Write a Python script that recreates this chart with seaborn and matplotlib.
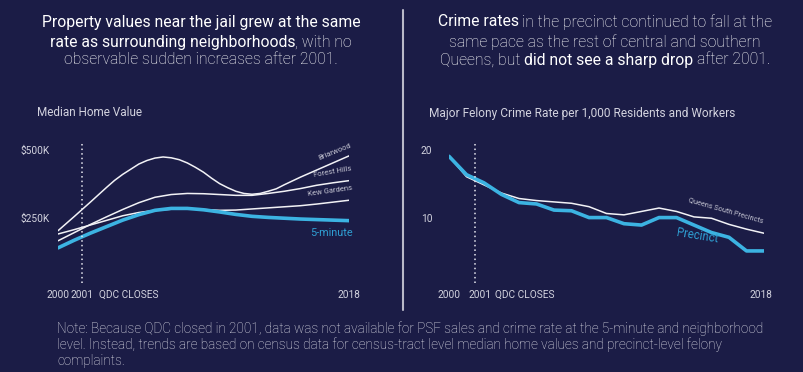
import numpy as np
import pandas as pd
import matplotlib
matplotlib.use("Agg")
import matplotlib.pyplot as plt
import matplotlib.transforms as mtransforms
from matplotlib.lines import Line2D
import seaborn as sns

# ---------------- data ----------------
years = list(range(2000, 2019))
five_minute = [144, 172, 198, 222, 246, 266, 282, 289, 289, 284, 276, 267, 260, 256, 253, 250, 248, 246, 244]
forest_hills = [170, 200, 230, 258, 285, 310, 330, 340, 344, 343, 340, 337, 337, 344, 352, 362, 374, 383, 391]
kew_gardens = [195, 211, 228, 245, 262, 274, 282, 286, 287, 285, 282, 283, 287, 291, 295, 299, 305, 312, 319]

# Briarwood read at half-year steps where the curve bends
briarwood_years = [2000, 2001, 2002, 2003, 2003.5, 2004, 2004.5, 2005, 2005.5, 2006, 2006.5, 2007, 2007.5,
                   2008, 2008.5, 2009, 2009.5, 2010, 2010.5, 2011, 2011.5, 2012, 2012.5, 2013, 2013.5,
                   2014, 2015, 2016, 2017, 2018]
briarwood = [207, 259, 312, 366, 392, 414, 433, 452, 465, 474, 478, 475, 468,
             456, 440, 422, 400, 380, 365, 352, 344, 341, 344, 352, 361,
             376, 404, 430, 456, 482]

precinct = [19.2, 16.5, 15.3, 13.6, 12.4, 12.2, 11.3, 11.2, 10.2, 10.2, 9.3, 9.1, 10.2, 10.2, 9.1, 8.0, 7.3, 5.3, 5.3]
queens_south = [19.2, 16.2, 15.0, 13.8, 13.0, 12.7, 12.5, 12.3, 11.8, 10.8, 10.6, 11.1, 11.6, 11.1, 10.3, 10.1, 9.2, 8.5, 7.9]

home_ticks = [250, 500]
home_tick_labels = ["$250K", "$500K"]
crime_ticks = [10, 20]
crime_tick_labels = ["10", "20"]
closure_year = 2001

# ---------------- style ----------------
BG = "#1b1c46"
BLUE = "#3cb3e2"
BLUE_TXT = "#2f9fd3"
WHITE = "#ffffff"
LINE_W = "#f2f2f6"
GREY = "#d2d2de"
LBL = "#c4c4d2"

sns.set_theme(style="white")
plt.rcParams['font.family'] = ['Roboto', 'DejaVu Sans']

W, H = 804, 372
fig = plt.figure(figsize=(W / 100, H / 100), dpi=100, facecolor=BG)


def px_axes(x0, y0, x1, y1):
    return fig.add_axes([x0 / W, 1 - y1 / H, (x1 - x0) / W, (y1 - y0) / H])


def fy(ypx):
    return 1 - ypx / H


def fx(xpx):
    return xpx / W


axL = px_axes(58, 142, 349, 283)
axR = px_axes(449, 142, 764, 283)

home_lines = pd.concat([
    pd.DataFrame({"year": briarwood_years, "value": briarwood, "area": "Briarwood"}),
    pd.DataFrame({"year": years, "value": forest_hills, "area": "Forest Hills"}),
    pd.DataFrame({"year": years, "value": kew_gardens, "area": "Kew Gardens"}),
    pd.DataFrame({"year": years, "value": five_minute, "area": "5-minute"}),
], ignore_index=True)
crime = pd.DataFrame({
    "year": years * 2,
    "value": queens_south + precinct,
    "area": ["Queens South Precincts"] * 19 + ["Precinct"] * 19,
})

for area in ["Briarwood", "Forest Hills", "Kew Gardens"]:
    sns.lineplot(data=home_lines[home_lines.area == area], x="year", y="value", ax=axL,
                 color=LINE_W, linewidth=1.1, legend=False, solid_capstyle="round", solid_joinstyle="round")
sns.lineplot(data=home_lines[home_lines.area == "5-minute"], x="year", y="value", ax=axL,
             color=BLUE, linewidth=2.6, legend=False, solid_capstyle="round", solid_joinstyle="round")

sns.lineplot(data=crime[crime.area == "Queens South Precincts"], x="year", y="value", ax=axR,
             color=LINE_W, linewidth=1.1, legend=False, solid_capstyle="round", solid_joinstyle="round")
sns.lineplot(data=crime[crime.area == "Precinct"], x="year", y="value", ax=axR,
             color=BLUE, linewidth=2.6, legend=False, solid_capstyle="round", solid_joinstyle="round")

axL.set_xlim(2000, 2018)
axL.set_ylim(15, 533)
axR.set_xlim(2000, 2018)
axR.set_ylim(0.59, 21.3)

for ax in (axL, axR):
    ax.set_facecolor("none")
    for s in ax.spines.values():
        s.set_visible(False)
    ax.set_xticks([])
    ax.set_yticks([])
    ax.set_xlabel("")
    ax.set_ylabel("")
    ax.axvline(closure_year + 0.5, color="#e8e8f0", linestyle=(0, (1, 2)), linewidth=1.1)

TK = 7.3
# y tick labels
trL = mtransforms.blended_transform_factory(fig.transFigure, axL.transData)
for v, lab in zip(home_ticks, home_tick_labels):
    fig.text(fx(20.5), v, lab, transform=trL, fontsize=TK, color=GREY, ha="left", va="center")
trR = mtransforms.blended_transform_factory(fig.transFigure, axR.transData)
for v, lab in zip(crime_ticks, crime_tick_labels):
    fig.text(fx(421), v, lab, transform=trR, fontsize=TK, color=GREY, ha="left", va="center")

# x labels
xlab_y = fy(295)
tLx = mtransforms.blended_transform_factory(axL.transData, fig.transFigure)
axL.text(2000, xlab_y, "2000", transform=tLx, fontsize=TK, color=GREY, ha="center", va="center")
axL.text(2001.5, xlab_y, "2001", transform=tLx, fontsize=TK, color=GREY, ha="center", va="center")
axL.text(2002.54, xlab_y, "QDC CLOSES", transform=tLx, fontsize=TK, color=GREY, ha="left", va="center")
axL.text(2018, xlab_y, "2018", transform=tLx, fontsize=TK, color=GREY, ha="center", va="center")
tRx = mtransforms.blended_transform_factory(axR.transData, fig.transFigure)
axR.text(2000, xlab_y, "2000", transform=tRx, fontsize=TK, color=GREY, ha="center", va="center")
axR.text(2001.77, xlab_y, "2001", transform=tRx, fontsize=TK, color=GREY, ha="center", va="center")
axR.text(2002.63, xlab_y, "QDC CLOSES", transform=tRx, fontsize=TK, color=GREY, ha="left", va="center")
axR.text(2017.8, xlab_y, "2018", transform=tRx, fontsize=TK, color=GREY, ha="center", va="center")

# axis titles
fig.text(fx(37), fy(113), "Median Home Value", fontsize=8.5, color=GREY, ha="left", va="center")
fig.text(fx(429), fy(113), "Major Felony Crime Rate per 1,000 Residents and Workers",
         fontsize=8.6, color=GREY, ha="left", va="center")

# series labels
axL.text(2017.1, 496, "Briarwood", fontsize=5.5, color=LBL, rotation=22, ha="center", va="center")
axL.text(2017.0, 423, "Forest Hills", fontsize=5.5, color=LBL, rotation=10, ha="center", va="center")
axL.text(2016.8, 353, "Kew Gardens", fontsize=5.5, color=LBL, rotation=8, ha="center", va="center")
axL.text(2016.9, 199, "5-minute", fontsize=7.8, color=BLUE_TXT, ha="center", va="center")
axR.text(2015.8, 11.2, "Queens South Precincts", fontsize=5.2, color=LBL, rotation=-16, ha="center", va="center")
axR.text(2014.2, 7.5, "Precinct", fontsize=8.3, color=BLUE_TXT, rotation=-9, ha="center", va="center")

# separator
fig.add_artist(Line2D([fx(403), fx(403)], [fy(10), fy(310)], color="#b9b9c8", linewidth=1.5))

# rich titles
renderer = fig.canvas.get_renderer()


def measure(s, size, weight):
    t = fig.text(0, 0, s, fontsize=size, fontweight=weight)
    w = t.get_window_extent(renderer).width
    t.remove()
    return w


def rich_line(segments, cx, cy, size):
    """segments: (text, weight, space_before)"""
    space = measure("a a", size, "light") - measure("aa", size, "light")
    texts, widths = [], []
    for s, wt, _ in segments:
        t = fig.text(0, 0, s, fontsize=size, fontweight=wt, color=WHITE, ha="left", va="center")
        widths.append(t.get_window_extent(renderer).width)
        texts.append(t)
    gaps = [space if sp else 0.0 for _, _, sp in segments]
    total = sum(widths) + sum(gaps[1:])
    x = cx - total / 2
    for i, (t, w) in enumerate(zip(texts, widths)):
        if i > 0:
            x += gaps[i]
        t.set_position((fx(x), fy(cy)))
        x += w


TS = 11.3
B, L = "normal", "light"
rich_line([("Property values near the jail grew at the same", B, False)], 201, 22, TS)
rich_line([("rate as surrounding neighborhoods", B, False), (", with no", L, False)], 201, 42, TS)
rich_line([("observable sudden increases after 2001.", L, False)], 201, 60, TS)

rich_line([("Crime rates", B, False), ("in the precinct continued to fall at the", L, True)], 605, 22, TS)
rich_line([("same pace as the rest of central and southern", L, False)], 605, 42, TS)
rich_line([("Queens, but", L, False), ("did not see a sharp drop", B, True), ("after 2001.", L, True)], 605, 60, TS)

# note
note_lines = [
    "Note: Because QDC closed in 2001, data was not available for PSF sales and crime rate at the 5-minute and neighborhood",
    "level. Instead, trends are based on census data for census-tract level median home values and precinct-level felony",
    "complaints.",
]
for i, ln in enumerate(note_lines):
    fig.text(fx(57), fy(329 + 16 * i), ln, fontsize=9.75, fontweight="light", color="#e6e6ee", ha="left", va="center")

fig.savefig("out.png", dpi=100, facecolor=BG)
